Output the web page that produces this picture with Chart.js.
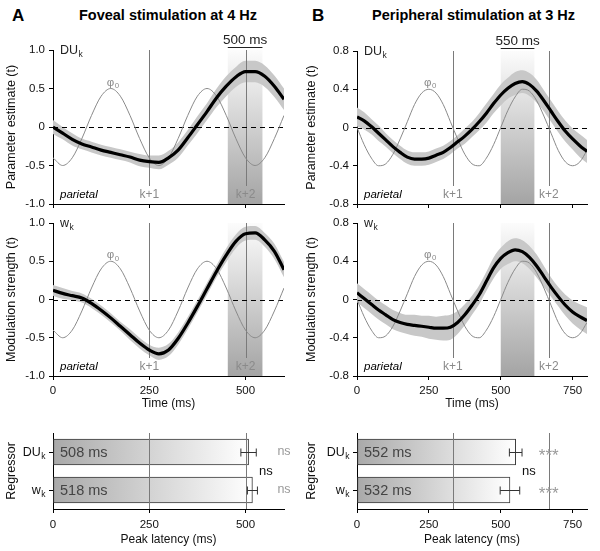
<!DOCTYPE html>
<html lang="en">
<head>
<meta charset="UTF-8">
<title>Foveal and peripheral stimulation</title>
<script src="https://cdn.jsdelivr.net/npm/chart.js"></script>
<style>
    body { margin: 0; background: #fff; font-family: "Liberation Sans", Arial, Helvetica, sans-serif; }
    #wrap { position: relative; width: 600px; height: 551px; overflow: hidden; }
    canvas { position: absolute; }
    .head { position: absolute; font-weight: bold; color: #000; white-space: nowrap; }
</style>
</head>
<body>
<div id="wrap">
    <div class="head" style="left:12px;top:6px;font-size:17px">A</div>
    <div class="head" style="left:68px;top:7px;width:200px;text-align:center;font-size:14.5px">Foveal stimulation at 4 Hz</div>
    <div class="head" style="left:312px;top:6px;font-size:17px">B</div>
    <div class="head" style="left:372px;top:7px;width:200px;text-align:center;font-size:14.5px">Peripheral stimulation at 3 Hz</div>

    <canvas id="aTop" width="300" height="185" style="left:0;top:25px"></canvas>
    <canvas id="aMid" width="300" height="200" style="left:0;top:215px"></canvas>
    <canvas id="aBar" width="300" height="131" style="left:0;top:420px"></canvas>
    <canvas id="bTop" width="300" height="185" style="left:300px;top:25px"></canvas>
    <canvas id="bMid" width="300" height="200" style="left:300px;top:215px"></canvas>
    <canvas id="bBar" width="300" height="131" style="left:300px;top:420px"></canvas>
</div>

<script>
    // ---- data ----
    // time axis, ms
    const timeA = [0, 25, 50, 75, 100, 125, 150, 175, 200, 225, 250, 275, 300, 325, 350, 375, 400, 425, 450, 475, 500, 525, 550, 575, 600];
    const timeB = [0, 25, 50, 75, 100, 125, 150, 175, 200, 225, 250, 275, 300, 325, 350, 375, 400, 425, 450, 475, 500, 525, 550, 575, 600, 625, 650, 675, 700, 725, 750, 775, 800];

    // stimulus phase reference (thin grey curve)
    const phiA = [-0.40, -0.50, -0.40, -0.15, 0.15, 0.40, 0.50, 0.40, 0.15, -0.15, -0.40, -0.50, -0.40, -0.15, 0.15, 0.40, 0.50, 0.40, 0.15, -0.15, -0.40, -0.50, -0.40, -0.15, 0.15];
    const phiB = [0, -0.18, -0.32, -0.40, -0.38, -0.28, -0.12, 0.06, 0.24, 0.36, 0.40, 0.36, 0.24, 0.06, -0.12, -0.28, -0.38, -0.40, -0.32, -0.18, 0, 0.18, 0.32, 0.40, 0.38, 0.28, 0.12, -0.06, -0.24, -0.36, -0.40, -0.36, -0.24];

    // DU_k parameter estimate + CI half width
    const duA = [0.00, -0.08, -0.16, -0.22, -0.26, -0.30, -0.33, -0.36, -0.39, -0.43, -0.45, -0.46, -0.40, -0.30, -0.14, 0.03, 0.20, 0.38, 0.53, 0.65, 0.72, 0.72, 0.66, 0.53, 0.36];
    const duAci = [0.09, 0.08, 0.08, 0.07, 0.07, 0.07, 0.07, 0.07, 0.07, 0.08, 0.08, 0.09, 0.09, 0.10, 0.10, 0.11, 0.11, 0.12, 0.13, 0.13, 0.14, 0.14, 0.14, 0.14, 0.14];
    const duB = [0.11, 0.07, 0.01, -0.06, -0.13, -0.20, -0.26, -0.31, -0.33, -0.33, -0.32, -0.29, -0.26, -0.21, -0.15, -0.09, -0.02, 0.06, 0.15, 0.25, 0.34, 0.41, 0.46, 0.48, 0.45, 0.38, 0.28, 0.17, 0.06, -0.04, -0.12, -0.19, -0.25];
    const duBci = [0.10, 0.09, 0.08, 0.08, 0.07, 0.07, 0.07, 0.07, 0.07, 0.07, 0.07, 0.07, 0.07, 0.07, 0.07, 0.08, 0.08, 0.09, 0.10, 0.10, 0.11, 0.11, 0.12, 0.12, 0.12, 0.12, 0.11, 0.11, 0.11, 0.11, 0.11, 0.12, 0.12];

    // w_k modulation strength + CI half width
    const wA = [0.12, 0.08, 0.05, 0.02, -0.05, -0.14, -0.24, -0.35, -0.46, -0.57, -0.66, -0.71, -0.66, -0.51, -0.31, -0.09, 0.14, 0.37, 0.58, 0.76, 0.86, 0.87, 0.78, 0.63, 0.39];
    const wAci = [0.07, 0.07, 0.06, 0.06, 0.06, 0.06, 0.06, 0.06, 0.07, 0.07, 0.07, 0.08, 0.08, 0.08, 0.08, 0.08, 0.08, 0.08, 0.09, 0.09, 0.09, 0.09, 0.09, 0.10, 0.10];
    const wB = [0.07, 0.01, -0.05, -0.11, -0.16, -0.21, -0.24, -0.26, -0.27, -0.28, -0.29, -0.30, -0.30, -0.29, -0.24, -0.16, -0.06, 0.05, 0.19, 0.33, 0.43, 0.49, 0.52, 0.50, 0.44, 0.35, 0.24, 0.13, 0.03, -0.06, -0.13, -0.18, -0.22];
    const wBci = [0.10, 0.10, 0.10, 0.10, 0.10, 0.10, 0.10, 0.10, 0.11, 0.11, 0.12, 0.12, 0.13, 0.13, 0.12, 0.11, 0.10, 0.10, 0.10, 0.11, 0.11, 0.12, 0.12, 0.12, 0.12, 0.12, 0.11, 0.10, 0.10, 0.11, 0.12, 0.13, 0.14];

    // peak latency bars
    const regressors = [['DU', 'k'], ['w', 'k']];
    const latencyA = [508, 518];
    const latencyErrA = [20, 13];
    const latencyB = [552, 532];
    const latencyErrB = [22, 34];
    const sigA = ['ns', 'ns'];
    const sigB = ['***', '***'];

    // tick values
    const xTicksA = [0, 250, 500];
    const xTicksB = [0, 250, 500, 750];
    const yTicksA = [-1, -0.5, 0, 0.5, 1];
    const yTicksB = [-0.8, -0.4, 0, 0.4, 0.8];

    const FONT = '"Liberation Sans", Arial, Helvetica, sans-serif';
    Chart.defaults.font.family = FONT;
    Chart.defaults.color = '#111';

    function subText(ctx, main, sub, x, y, size, color, align) {
        ctx.font = size + 'px ' + FONT;
        const w1 = ctx.measureText(main).width;
        ctx.font = (size * 0.68) + 'px ' + FONT;
        const w2 = ctx.measureText(sub).width;
        let sx = x;
        if (align === 'right') sx = x - w1 - w2;
        if (align === 'center') sx = x - (w1 + w2) / 2;
        ctx.fillStyle = color;
        ctx.textAlign = 'left';
        ctx.textBaseline = 'alphabetic';
        ctx.font = size + 'px ' + FONT;
        ctx.fillText(main, sx, y);
        ctx.font = (size * 0.68) + 'px ' + FONT;
        ctx.fillText(sub, sx + w1 + 0.5, y + size * 0.25);
    }

    function axisStyle() {
        return {
            grid: { drawOnChartArea: false, drawTicks: true, tickLength: 4, color: '#000', lineWidth: 1 },
            border: { display: true, color: '#000', width: 1 }
        };
    }

    // fixed box sizes so every plot area lands where the figure has it
    function fixW(w) {
        return s => { s.width = w; s.paddingTop = 0; s.paddingBottom = 0; };
    }
    function fixH(h) {
        return s => { s.height = h; s.paddingLeft = 0; s.paddingRight = 0; };
    }

    // ---- time course panels ----
    function linePanel(id, o) {
        const pts = vals => o.time.map((t, i) => ({ x: t, y: vals[i] }));
        const upper = o.mean.map((v, i) => v + o.ci[i]);
        const lower = o.mean.map((v, i) => v - o.ci[i]);

        const panelPlugin = {
            id: 'panel',
            beforeDatasetsDraw(chart) {
                const { ctx, chartArea: a, scales: { x } } = chart;
                const x0 = x.getPixelForValue(o.band[0]);
                const x1 = x.getPixelForValue(o.band[1]);
                const g = ctx.createLinearGradient(0, a.top, 0, a.bottom);
                g.addColorStop(0, '#fcfcfc');
                g.addColorStop(1, '#a4a4a4');
                ctx.save();
                ctx.fillStyle = g;
                ctx.fillRect(x0, a.top, x1 - x0, a.bottom - a.top);
                ctx.restore();
            },
            beforeDatasetDraw(chart, args) {
                if (args.index !== 1) return;
                const { ctx, chartArea: a, scales: { x, y } } = chart;
                ctx.save();
                ctx.strokeStyle = '#7a7a7a';
                ctx.lineWidth = 1;
                o.kLines.forEach(t => {
                    const px = Math.round(x.getPixelForValue(t)) + 0.5;
                    ctx.beginPath();
                    ctx.moveTo(px, a.top);
                    ctx.lineTo(px, a.bottom - 18);
                    ctx.stroke();
                });
                // zero line
                const py = Math.round(y.getPixelForValue(0)) + 0.5;
                ctx.strokeStyle = '#000';
                ctx.setLineDash([5, 4]);
                ctx.beginPath();
                ctx.moveTo(a.left, py);
                ctx.lineTo(a.right, py);
                ctx.stroke();
                ctx.restore();
            },
            afterDraw(chart) {
                const { ctx, chartArea: a, scales: { x, y } } = chart;
                ctx.save();
                subText(ctx, o.name[0], o.name[1], a.left + 7, a.top + 4, 12.5, '#222', 'left');
                subText(ctx, '\u03c6', '0', x.getPixelForValue(o.phiLab[0]), y.getPixelForValue(o.phiLab[1]) + 4, 11.5, '#8a8a8a', 'center');

                ctx.fillStyle = '#000';
                ctx.font = 'italic 11.5px ' + FONT;
                ctx.textAlign = 'left';
                ctx.textBaseline = 'alphabetic';
                ctx.fillText('parietal', a.left + 7, a.bottom - 6);

                ctx.fillStyle = '#8a8a8a';
                ctx.font = '12px ' + FONT;
                ctx.textAlign = 'center';
                o.kLines.forEach((t, i) => ctx.fillText('k+' + (i + 1), x.getPixelForValue(t), a.bottom - 6));

                if (o.scaleLabel) {
                    const x0 = x.getPixelForValue(o.band[0]);
                    const x1 = x.getPixelForValue(o.band[1]);
                    ctx.fillStyle = '#222';
                    ctx.font = '13.5px ' + FONT;
                    ctx.fillText(o.scaleLabel, (x0 + x1) / 2, a.top - 6);
                    ctx.strokeStyle = '#222';
                    ctx.lineWidth = 1;
                    ctx.beginPath();
                    ctx.moveTo(x0, a.top - 2.5);
                    ctx.lineTo(x1, a.top - 2.5);
                    ctx.stroke();
                }
                ctx.restore();
            }
        };

        const xs = axisStyle();
        const ys = axisStyle();
        new Chart(document.getElementById(id), {
            type: 'line',
            data: {
                datasets: [
                    { data: pts(o.mean), borderColor: '#000', borderWidth: 3.2, pointRadius: 0, cubicInterpolationMode: 'monotone', fill: false, order: 0 },
                    { data: pts(o.phi), borderColor: '#8a8a8a', borderWidth: 1, pointRadius: 0, cubicInterpolationMode: 'monotone', fill: false, order: 1 },
                    { data: pts(upper), borderColor: 'rgba(0,0,0,0)', borderWidth: 0, pointRadius: 0, cubicInterpolationMode: 'monotone', fill: false, order: 2 },
                    { data: pts(lower), borderColor: 'rgba(0,0,0,0)', borderWidth: 0, pointRadius: 0, cubicInterpolationMode: 'monotone', fill: '-1', backgroundColor: '#c8c8c8', order: 2 }
                ]
            },
            options: {
                responsive: false,
                animation: false,
                layout: { padding: { left: 0, top: o.padTop, right: o.padRight, bottom: 0 } },
                plugins: { legend: { display: false }, tooltip: { enabled: false } },
                scales: {
                    x: {
                        type: 'linear', min: 0, max: o.xmax,
                        afterBuildTicks: s => { s.ticks = o.xTicks.map(v => ({ value: v })); },
                        afterFit: fixH(o.xh),
                        grid: xs.grid, border: xs.border,
                        ticks: { display: o.showX, padding: 4, maxRotation: 0, font: { size: 11.5 }, callback: v => String(v) },
                        title: { display: o.showX, text: 'Time (ms)', font: { size: 12 }, padding: { top: 0, bottom: 4 } }
                    },
                    y: {
                        type: 'linear', min: o.yTicks[0], max: o.yTicks[o.yTicks.length - 1],
                        afterBuildTicks: s => { s.ticks = o.yTicks.map(v => ({ value: v })); },
                        afterFit: fixW(o.yw),
                        grid: ys.grid, border: ys.border,
                        ticks: { padding: 4, font: { size: 11.5 }, callback: v => v === 0 ? '0' : v.toFixed(1) },
                        title: { display: true, text: o.ytitle, font: { size: 12.5 }, padding: { top: 4, bottom: 0 } }
                    }
                }
            },
            plugins: [panelPlugin]
        });
    }

    // ---- latency bar panels ----
    function barPanel(id, o) {
        const barPlugin = {
            id: 'bars',
            afterDatasetsDraw(chart) {
                const { ctx, chartArea: a, scales: { x } } = chart;
                const meta = chart.getDatasetMeta(0);
                ctx.save();
                ctx.strokeStyle = '#7a7a7a';
                ctx.lineWidth = 1;
                o.kLines.forEach(t => {
                    const px = Math.round(x.getPixelForValue(t)) + 0.5;
                    ctx.beginPath();
                    ctx.moveTo(px, a.top);
                    ctx.lineTo(px, a.bottom);
                    ctx.stroke();
                });
                meta.data.forEach((bar, i) => {
                    const v = o.values[i], e = o.errs[i];
                    const x0 = x.getPixelForValue(v - e), x1 = x.getPixelForValue(v + e);
                    const yy = Math.round(bar.y) + 0.5;
                    ctx.strokeStyle = '#333';
                    ctx.beginPath();
                    ctx.moveTo(x0, yy); ctx.lineTo(x1, yy);
                    ctx.moveTo(x0, yy - 4); ctx.lineTo(x0, yy + 4);
                    ctx.moveTo(x1, yy - 4); ctx.lineTo(x1, yy + 4);
                    ctx.stroke();

                    ctx.fillStyle = '#444';
                    ctx.font = '14.5px ' + FONT;
                    ctx.textAlign = 'left';
                    ctx.textBaseline = 'middle';
                    ctx.fillText(v + ' ms', a.left + 7, bar.y + 1);

                    ctx.fillStyle = '#9a9a9a';
                    ctx.textAlign = 'center';
                    if (o.sig[i] === 'ns') {
                        ctx.font = '12.5px ' + FONT;
                        ctx.fillText('ns', x.getPixelForValue(o.sigX), bar.y);
                    } else {
                        ctx.font = '17px ' + FONT;
                        ctx.textBaseline = 'alphabetic';
                        ctx.fillText(o.sig[i], x.getPixelForValue(o.sigX), bar.y + 9);
                    }
                });
                ctx.fillStyle = '#111';
                ctx.font = '13px ' + FONT;
                ctx.textAlign = 'center';
                ctx.textBaseline = 'middle';
                ctx.fillText('ns', x.getPixelForValue(o.diffX), (meta.data[0].y + meta.data[1].y) / 2);
                ctx.restore();
            },
            afterDraw(chart) {
                const { ctx, chartArea: a } = chart;
                const meta = chart.getDatasetMeta(0);
                ctx.save();
                regressors.forEach((r, i) => subText(ctx, r[0], r[1], a.left - 8, meta.data[i].y + 4, 12.5, '#111', 'right'));
                ctx.restore();
            }
        };

        const xs = axisStyle();
        const ys = axisStyle();
        new Chart(document.getElementById(id), {
            type: 'bar',
            data: {
                labels: regressors.map(r => r[0] + r[1]),
                datasets: [{
                    data: o.values,
                    backgroundColor(c) {
                        const ch = c.chart;
                        if (!ch.chartArea) return '#ccc';
                        const x = ch.scales.x;
                        const g = ch.ctx.createLinearGradient(x.getPixelForValue(0), 0, x.getPixelForValue(c.raw), 0);
                        g.addColorStop(0, '#a9a9a9');
                        g.addColorStop(1, '#ffffff');
                        return g;
                    },
                    borderColor: '#3a3a3a',
                    borderWidth: 1,
                    borderSkipped: false,
                    barThickness: 26
                }]
            },
            options: {
                indexAxis: 'y',
                responsive: false,
                animation: false,
                layout: { padding: { left: 0, top: 13, right: o.padRight, bottom: 0 } },
                plugins: { legend: { display: false }, tooltip: { enabled: false } },
                scales: {
                    x: {
                        type: 'linear', min: 0, max: o.xmax,
                        afterBuildTicks: s => { s.ticks = o.xTicks.map(v => ({ value: v })); },
                        afterFit: fixH(42),
                        grid: xs.grid, border: xs.border,
                        ticks: { padding: 5, maxRotation: 0, font: { size: 11.5 }, callback: v => String(v) },
                        title: { display: true, text: 'Peak latency (ms)', font: { size: 12 }, padding: { top: 0, bottom: 4 } }
                    },
                    y: {
                        afterFit: fixW(o.yw),
                        grid: { drawOnChartArea: false, offset: false, tickLength: 4, color: '#000' },
                        border: ys.border,
                        ticks: { display: false },
                        title: { display: true, text: 'Regressor', font: { size: 12.5 }, padding: { top: 4, bottom: 0 } }
                    }
                }
            },
            plugins: [barPlugin]
        });
    }

    linePanel('aTop', {
        time: timeA, mean: duA, ci: duAci, phi: phiA, name: ['DU', 'k'], ytitle: 'Parameter estimate (t)',
        xmax: 600, xTicks: xTicksA, yTicks: yTicksA, band: [454, 544], kLines: [250, 500], phiLab: [155, 0.59],
        scaleLabel: '500 ms', showX: false, padTop: 25, padRight: 16, yw: 53, xh: 6
    });
    linePanel('aMid', {
        time: timeA, mean: wA, ci: wAci, phi: phiA, name: ['w', 'k'], ytitle: 'Modulation strength (t)',
        xmax: 600, xTicks: xTicksA, yTicks: yTicksA, band: [454, 544], kLines: [250, 500], phiLab: [155, 0.59],
        scaleLabel: null, showX: true, padTop: 8, padRight: 16, yw: 53, xh: 39
    });
    linePanel('bTop', {
        time: timeB, mean: duB, ci: duBci, phi: phiB, name: ['DU', 'k'], ytitle: 'Parameter estimate (t)',
        xmax: 800, xTicks: xTicksB, yTicks: yTicksB, band: [500, 617], kLines: [333, 667], phiLab: [254, 0.48],
        scaleLabel: '550 ms', showX: false, padTop: 26, padRight: 13, yw: 57, xh: 6
    });
    linePanel('bMid', {
        time: timeB, mean: wB, ci: wBci, phi: phiB, name: ['w', 'k'], ytitle: 'Modulation strength (t)',
        xmax: 800, xTicks: xTicksB, yTicks: yTicksB, band: [500, 617], kLines: [333, 667], phiLab: [254, 0.48],
        scaleLabel: null, showX: true, padTop: 8, padRight: 13, yw: 57, xh: 39
    });
    barPanel('aBar', {
        values: latencyA, errs: latencyErrA, sig: sigA, sigX: 600, diffX: 553,
        xmax: 600, xTicks: xTicksA, kLines: [250, 500], padRight: 16, yw: 53
    });
    barPanel('bBar', {
        values: latencyB, errs: latencyErrB, sig: sigB, sigX: 667, diffX: 598,
        xmax: 800, xTicks: xTicksB, kLines: [333, 667], padRight: 13, yw: 57
    });
</script>
</body>
</html>
